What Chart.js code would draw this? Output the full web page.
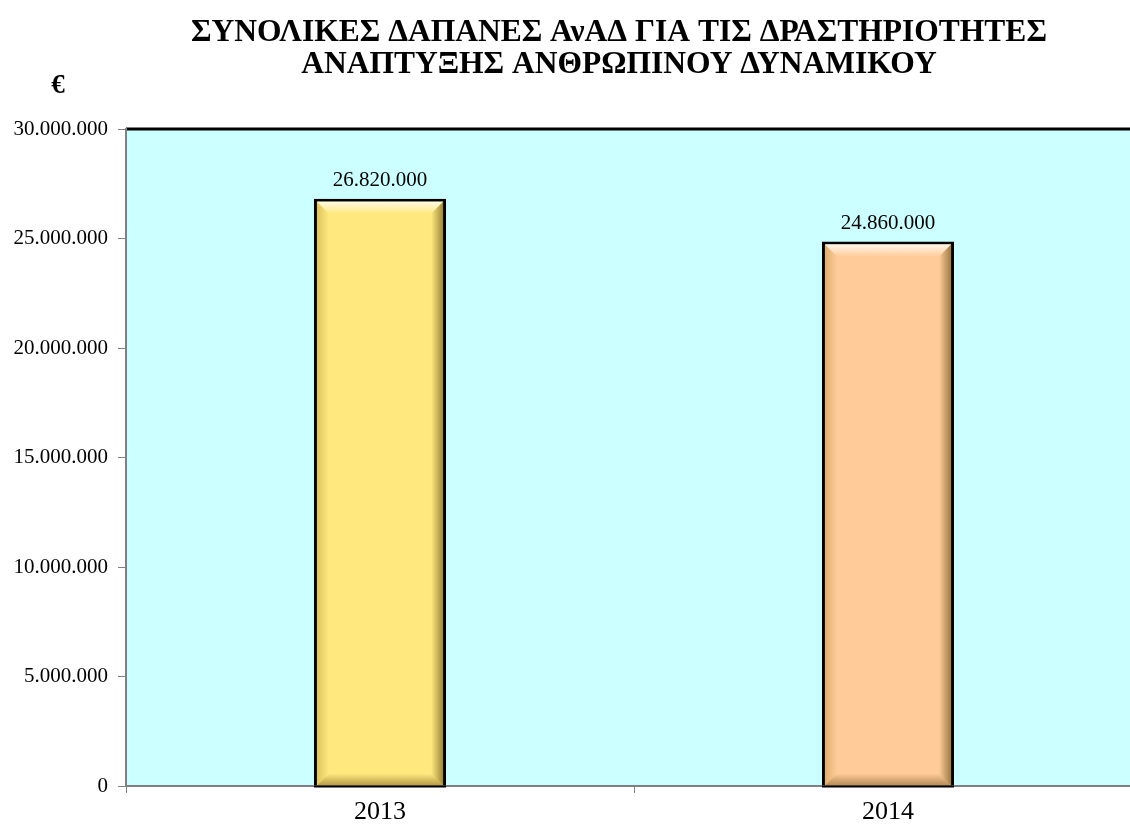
<!DOCTYPE html>
<html>
<head>
<meta charset="utf-8">
<script src="https://cdn.jsdelivr.net/npm/chart.js@4/dist/chart.umd.min.js"></script>
<style>
  html, body { margin: 0; padding: 0; background: #fff; overflow: hidden; }
  #wrap { width: 1130px; height: 832px; overflow: hidden; position: relative; }
  canvas { display: block; }
</style>
</head>
<body>
<div id="wrap"><canvas id="dapanes" width="1150" height="832"></canvas></div>
<script>
const years = ["2013", "2014"];
const spending = [26820000, 24860000];
const yMin = 0;
const yMax = 30000000;
const yStep = 5000000;
const titleLines = [
  "ΣΥΝΟΛΙΚΕΣ ΔΑΠΑΝΕΣ ΑνΑΔ ΓΙΑ ΤΙΣ ΔΡΑΣΤΗΡΙΟΤΗΤΕΣ",
  "ΑΝΑΠΤΥΞΗΣ ΑΝΘΡΩΠΙΝΟΥ ΔΥΝΑΜΙΚΟΥ",
];
const unitLabel = "€";
const barColors = ["#FFE97F", "#FFCC99"];

const serif = "'Liberation Serif', 'Times New Roman', serif";

function fmt(v) {
  return String(v).replace(/\B(?=(\d{3})+(?!\d))/g, ".");
}

// plot background + black top edge
const plotBg = {
  id: "plotBg",
  beforeDraw(chart) {
    const { ctx, chartArea: a } = chart;
    ctx.save();
    ctx.fillStyle = "#CCFFFF";
    ctx.fillRect(a.left, a.top, a.right - a.left, a.bottom - a.top);
    ctx.strokeStyle = "#000";
    ctx.lineWidth = 3;
    ctx.beginPath();
    ctx.moveTo(a.left, a.top);
    ctx.lineTo(a.right, a.top);
    ctx.stroke();
    ctx.restore();
  },
};

// title and euro sign
const header = {
  id: "header",
  afterDraw(chart) {
    const { ctx, chartArea: a } = chart;
    ctx.save();
    ctx.fillStyle = "#000";
    ctx.font = "bold 31.5px " + serif;
    ctx.textAlign = "center";
    ctx.textBaseline = "alphabetic";
    const cx = (a.left + a.right) / 2 - 15;
    ctx.fillText(titleLines[0], cx, 41);
    ctx.fillText(titleLines[1], cx, 73);
    ctx.font = "bold 27px " + serif;
    ctx.fillText(unitLabel, 58, 93);
    ctx.restore();
  },
};

// bevel shading and value labels on bars
const barDeco = {
  id: "barDeco",
  afterDatasetsDraw(chart) {
    const { ctx } = chart;
    const meta = chart.getDatasetMeta(0);
    meta.data.forEach((bar, i) => {
      const p = bar.getProps(["x", "y", "base", "width"], true);
      const bw = 3, d = 12;
      const L = p.x - p.width / 2 + bw, R = p.x + p.width / 2 - bw;
      const T = p.y + bw, B = p.base;
      ctx.save();
      let g = ctx.createLinearGradient(0, T, 0, T + d);
      g.addColorStop(0, "rgba(255,255,255,0.8)");
      g.addColorStop(1, "rgba(255,255,255,0)");
      ctx.fillStyle = g;
      ctx.beginPath();
      ctx.moveTo(L, T); ctx.lineTo(R, T); ctx.lineTo(R - d, T + d); ctx.lineTo(L + d, T + d);
      ctx.closePath(); ctx.fill();

      g = ctx.createLinearGradient(0, B, 0, B - d);
      g.addColorStop(0, "rgba(90,60,0,0.45)");
      g.addColorStop(1, "rgba(90,60,0,0)");
      ctx.fillStyle = g;
      ctx.beginPath();
      ctx.moveTo(L, B); ctx.lineTo(R, B); ctx.lineTo(R - d, B - d); ctx.lineTo(L + d, B - d);
      ctx.closePath(); ctx.fill();

      g = ctx.createLinearGradient(R, 0, R - d, 0);
      g.addColorStop(0, "rgba(80,55,0,0.55)");
      g.addColorStop(1, "rgba(80,55,0,0)");
      ctx.fillStyle = g;
      ctx.beginPath();
      ctx.moveTo(R, T); ctx.lineTo(R, B); ctx.lineTo(R - d, B - d); ctx.lineTo(R - d, T + d);
      ctx.closePath(); ctx.fill();

      g = ctx.createLinearGradient(L, 0, L + d, 0);
      g.addColorStop(0, "rgba(150,110,20,0.3)");
      g.addColorStop(1, "rgba(150,110,20,0)");
      ctx.fillStyle = g;
      ctx.beginPath();
      ctx.moveTo(L, T); ctx.lineTo(L, B); ctx.lineTo(L + d, B - d); ctx.lineTo(L + d, T + d);
      ctx.closePath(); ctx.fill();

      ctx.fillStyle = "#000";
      ctx.fillRect(p.x - p.width / 2, B, p.width, 2);

      ctx.font = "21px " + serif;
      ctx.textAlign = "center";
      ctx.textBaseline = "bottom";
      ctx.fillText(fmt(spending[i]), p.x, p.y - 8);
      ctx.restore();
    });
  },
};

const dapanesChart = new Chart(document.getElementById("dapanes"), {
  type: "bar",
  data: {
    labels: years,
    datasets: [
      {
        data: spending,
        backgroundColor: barColors,
        borderColor: "#000",
        borderWidth: 3,
        barPercentage: 0.26,
        categoryPercentage: 1,
      },
    ],
  },
  options: {
    responsive: false,
    animation: false,
    layout: { padding: { top: 129, right: 8, left: 0, bottom: 0 } },
    plugins: {
      legend: { display: false },
      tooltip: { enabled: false },
      title: { display: false },
    },
    scales: {
      x: {
        offset: true,
        grid: { display: true, drawOnChartArea: false, offset: true, tickLength: 7, color: "#808080", lineWidth: 1 },
        border: { color: "#808080", width: 2 },
        ticks: { color: "#000", font: { family: serif, size: 26 }, padding: 4 },
        afterFit(scale) { scale.height = 46; },
      },
      y: {
        min: yMin,
        max: yMax,
        grid: { drawOnChartArea: false, tickLength: 8, color: "#808080", lineWidth: 1 },
        border: { color: "#808080", width: 2 },
        ticks: {
          stepSize: yStep,
          color: "#000",
          padding: 10,
          font: { family: serif, size: 21 },
          callback: (v) => fmt(v),
        },
        afterFit(scale) { scale.width = 126; },
      },
    },
  },
  plugins: [plotBg, header, barDeco],
});
</script>
</body>
</html>
